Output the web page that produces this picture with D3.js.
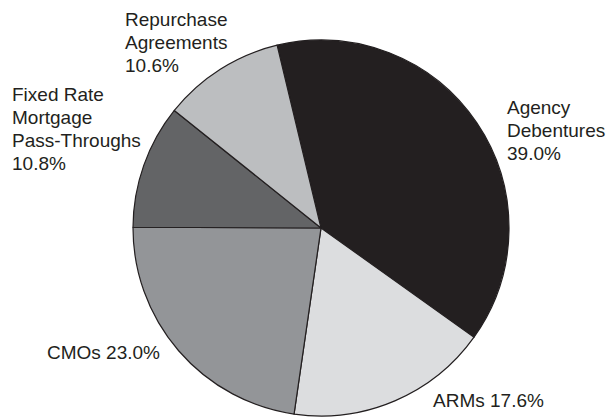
<!DOCTYPE html>
<html>
<head>
<meta charset="utf-8">
<script src="https://cdn.jsdelivr.net/npm/d3@7"></script>
<style>
  html, body { margin: 0; padding: 0; background: #fff; }
  svg { display: block; }
</style>
</head>
<body>
<svg id="chart" width="610" height="420"></svg>
<script>
// Data
const categories = ["Agency Debentures", "ARMs", "CMOs", "Fixed Rate Mortgage Pass-Throughs", "Repurchase Agreements"];
const values = [39.0, 17.6, 23.0, 10.8, 10.6];
const labelLines = [
  ["Agency", "Debentures", "39.0%"],
  ["ARMs 17.6%"],
  ["CMOs 23.0%"],
  ["Fixed Rate", "Mortgage", "Pass-Throughs", "10.8%"],
  ["Repurchase", "Agreements", "10.6%"]
];

// Layout / style
const colors = ["#231f20", "#dcdddf", "#939598", "#636466", "#bcbec0"];
const labelPos = [[507, 114], [433, 407], [47, 359], [12, 101], [125, 26]];
const lineStep = 23;
const cx = 321, cy = 228, radius = 188;
const startDeg = -13.5;

const svg = d3.select("#chart");
const g = svg.append("g").attr("transform", `translate(${cx},${cy})`);

const start = startDeg * Math.PI / 180;
const pie = d3.pie().sort(null).value(d => d).startAngle(start).endAngle(start + 2 * Math.PI);
const arc = d3.arc().innerRadius(0).outerRadius(radius);

g.selectAll("path")
  .data(pie(values))
  .join("path")
  .attr("d", arc)
  .attr("fill", (d, i) => colors[i])
  .attr("stroke", "#231f20")
  .attr("stroke-width", 1.2)
  .attr("stroke-linejoin", "round");

const labels = svg.append("g")
  .attr("font-family", "'Liberation Sans', Arial, Helvetica, sans-serif")
  .attr("font-size", 19)
  .attr("fill", "#231f20");

labels.selectAll("text")
  .data(categories)
  .join("text")
  .attr("x", (d, i) => labelPos[i][0])
  .attr("y", (d, i) => labelPos[i][1])
  .each(function(d, i) {
    d3.select(this).selectAll("tspan")
      .data(labelLines[i])
      .join("tspan")
      .attr("x", labelPos[i][0])
      .attr("dy", (t, j) => j === 0 ? 0 : lineStep)
      .text(t => t);
  });
</script>
</body>
</html>
